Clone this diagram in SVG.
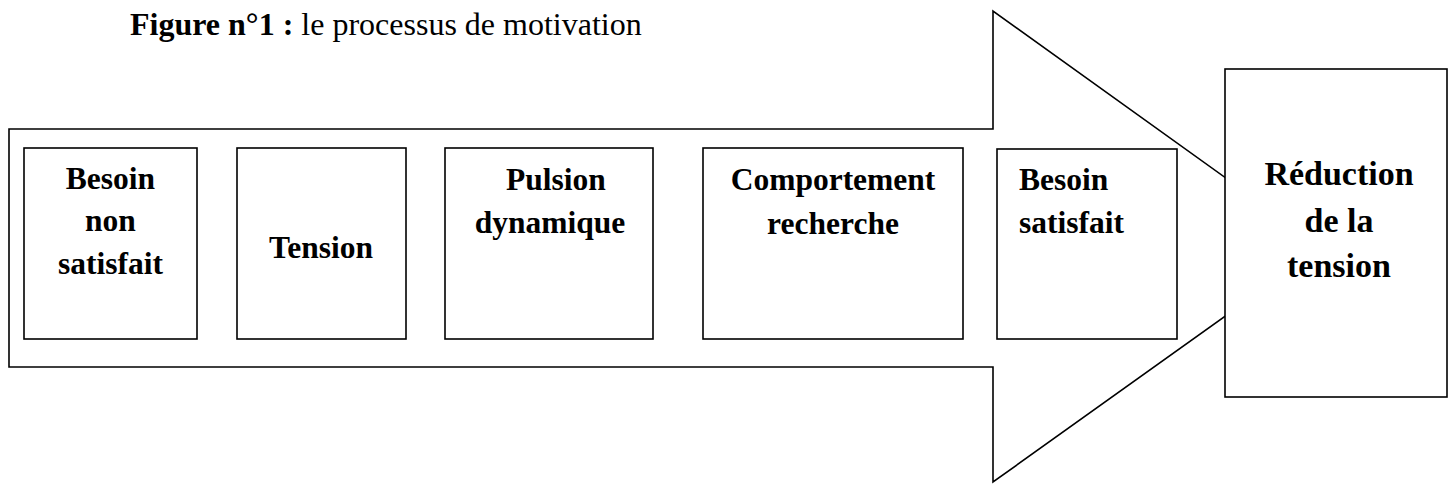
<svg xmlns="http://www.w3.org/2000/svg" width="1454" height="485" viewBox="0 0 1454 485">
<style>
.box{fill:#fff;stroke:#000;stroke-width:1.6}
.lbl{font-family:"Liberation Serif","Times New Roman",serif;font-weight:bold;font-size:31.5px;fill:#000;text-anchor:middle}
.big{font-size:34px}
.title{font-family:"Liberation Serif","Times New Roman",serif;font-size:32px;fill:#000}
</style>
<rect width="1454" height="485" fill="#fff"/>
<text class="title" x="130" y="35"><tspan font-weight="bold">Figure n°1 : </tspan>le processus de motivation</text>
<g id="connectors">
<polygon id="flow-arrow" class="box" points="9,129 993,129 993,11 1322,247 993,482 993,367 9,367"/>
</g>
<g id="n1"><rect class="box" x="24" y="148" width="173" height="191"/>
<text class="lbl" x="110.5" y="189">Besoin</text><text class="lbl" x="110.5" y="231">non</text><text class="lbl" x="110.5" y="274">satisfait</text></g>
<g id="n2"><rect class="box" x="237" y="148" width="169" height="191"/>
<text class="lbl" x="321" y="258">Tension</text></g>
<g id="n3"><rect class="box" x="445" y="148" width="208" height="191"/>
<text class="lbl" x="556" y="190">Pulsion</text><text class="lbl" x="550" y="233">dynamique</text></g>
<g id="n4"><rect class="box" x="703" y="148" width="260" height="191"/>
<text class="lbl" x="833" y="190">Comportement</text><text class="lbl" x="833" y="234">recherche</text></g>
<g id="n5"><rect class="box" x="997" y="149" width="180" height="190"/>
<text class="lbl" x="1019" y="190" text-anchor="start" style="text-anchor:start">Besoin</text><text class="lbl" x="1019" y="233" style="text-anchor:start">satisfait</text></g>
<g id="n6"><rect class="box" x="1225" y="69" width="222" height="328"/>
<text class="lbl big" x="1339" y="185">Réduction</text><text class="lbl big" x="1339" y="232">de la</text><text class="lbl big" x="1339" y="277">tension</text></g>
</svg>
